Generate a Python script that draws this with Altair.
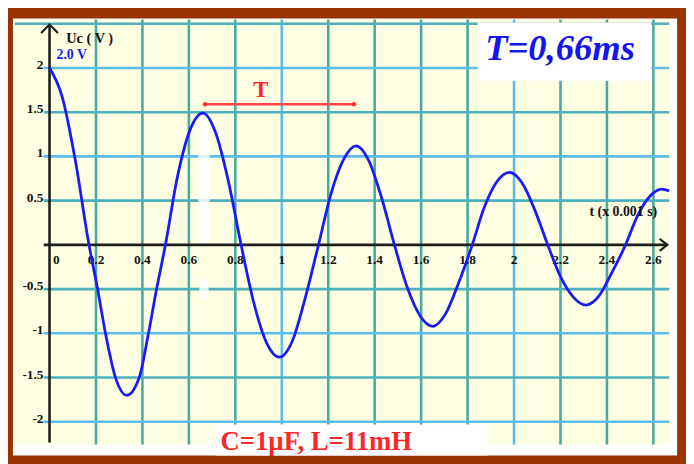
import altair as alt
import pandas as pd

# ---- curve: t (x 0.001 s) and Uc (V) ----
t_vals = [0, 0.055, 0.11, 0.17, 0.207, 0.241, 0.284, 0.333, 0.386, 0.426, 0.461, 0.499,
          0.55, 0.605, 0.66, 0.715, 0.77, 0.825, 0.88, 0.935, 0.99, 1.045, 1.10, 1.158,
          1.21, 1.265, 1.32, 1.375, 1.43, 1.485, 1.54, 1.595, 1.65, 1.705, 1.76, 1.82,
          1.87, 1.925, 1.98, 2.035, 2.09, 2.145, 2.20, 2.255, 2.31, 2.365, 2.42, 2.48,
          2.53, 2.585, 2.635, 2.668]
uc_vals = [2.00, 1.67, 0.97, 0.0, -0.5, -1.0, -1.5, -1.70, -1.5, -1.0, -0.5, 0.0,
           0.76, 1.30, 1.49, 1.27, 0.72, 0.0, -0.66, -1.11, -1.27, -1.09, -0.61, 0.0,
           0.56, 0.96, 1.12, 0.95, 0.53, 0.0, -0.48, -0.80, -0.92, -0.78, -0.44, 0.0,
           0.41, 0.71, 0.82, 0.70, 0.39, 0.0, -0.36, -0.59, -0.68, -0.58, -0.32, 0.0,
           0.32, 0.55, 0.63, 0.61]

x_ticks = [0, 0.2, 0.4, 0.6, 0.8, 1, 1.2, 1.4, 1.6, 1.8, 2, 2.2, 2.4, 2.6]
x_tick_labels = ["0", "0.2", "0.4", "0.6", "0.8", "1", "1.2", "1.4", "1.6", "1.8",
                 "2", "2.2", "2.4", "2.6"]
y_ticks = [2, 1.5, 1, 0.5, -0.5, -1, -1.5, -2]
y_tick_labels = ["2", "1.5", "1", "0.5", "-0.5", "-1", "-1.5", "-2"]
grid_x = [0.2, 0.4, 0.6, 0.8, 1, 1.2, 1.4, 1.6, 1.8, 2, 2.2, 2.4, 2.6]
grid_y = [-2, -1.5, -1, -0.5, 0.5, 1, 1.5, 2, 2.5]

period_start, period_end, period_level = 0.67, 1.31, 1.59

# ---- styling ----
FONT = "Liberation Serif"
BROWN = "#993300"
YELLOW = "#fefee2"
BLUE_GRID = "#5cbcec"
TEAL_GRID = "#48ab9f"
HALF_GRID = "#4db0bb"
CURVE = "#1a1af5"
RED = "#ff2626"
INK = "#111111"

xs = alt.Scale(domain=[-0.149, 2.668], nice=False, zero=False)
ys = alt.Scale(domain=[-2.257, 2.547], nice=False, zero=False)


def X(f):
    return alt.X(f, type="quantitative", scale=xs, axis=None)


def Y(f):
    return alt.Y(f, type="quantitative", scale=ys, axis=None)


one = pd.DataFrame({"a": [0]})

# frame: white inner strip and yellow paper
white_bg = alt.Chart(one).mark_rect(color="white").encode(
    x=alt.value(-2), x2=alt.value(670), y=alt.value(-1), y2=alt.value(441))
paper = alt.Chart(one).mark_rect(color=YELLOW).encode(
    x=alt.value(0), x2=alt.value(662), y=alt.value(0), y2=alt.value(430))

# grid
gx = pd.DataFrame({"g": grid_x,
                   "c": [BLUE_GRID if abs(v - round(v)) < 1e-9 else TEAL_GRID for v in grid_x]})
vgrid = alt.Chart(gx).mark_rule(strokeWidth=2.6).encode(
    x=X("g"), y=alt.value(0), y2=alt.value(430), color=alt.Color("c:N", scale=None))

gy = pd.DataFrame({"g": grid_y,
                   "x0": [-0.149 if v > 2.4 else -0.025 for v in grid_y],
                   "x1": [2.668] * len(grid_y),
                   "c": [BLUE_GRID if abs(v - round(v)) < 1e-9 else HALF_GRID for v in grid_y]})
hgrid = alt.Chart(gy).mark_rule(strokeWidth=2.6).encode(
    y=Y("g"), x=X("x0"), x2="x1", color=alt.Color("c:N", scale=None))

# white smudges near t = 0.66
smudge = pd.DataFrame({"x0": [0.64, 0.645], "x1": [0.69, 0.685],
                       "y0": [1.45, -0.38], "y1": [0.02, -0.62]})
smudges = alt.Chart(smudge).mark_rect(color="white", opacity=0.8).encode(
    x=X("x0"), x2="x1", y=Y("y0"), y2="y1")

# axes
xaxis = alt.Chart(pd.DataFrame({"x0": [-0.025], "x1": [2.655], "y": [0]})).mark_rule(
    color="#1e1e1e", strokeWidth=2.6).encode(x=X("x0"), x2="x1", y=Y("y"))
yaxis = alt.Chart(pd.DataFrame({"x": [0], "y0": [-2.235], "y1": [2.48]})).mark_rule(
    color="#1e1e1e", strokeWidth=2.6).encode(x=X("x"), y=Y("y0"), y2="y1")
xarrow = alt.Chart(pd.DataFrame({"x": [2.66], "y": [0]})).mark_point(
    shape="M -1.3 -1 L 0 0 L -1.3 1", filled=False, stroke="#1e1e1e", strokeWidth=2.2,
    size=144, opacity=1).encode(x=X("x"), y=Y("y"))
yarrow = alt.Chart(pd.DataFrame({"x": [0], "y": [2.49]})).mark_point(
    shape="M -1 1 L 0 0 L 1 1", filled=False, stroke="#1e1e1e", strokeWidth=2.2,
    size=289, opacity=1).encode(x=X("x"), y=Y("y"))

# tick labels
xl = pd.DataFrame({"x": x_ticks, "lab": x_tick_labels, "y": [-0.17] * len(x_ticks)})
xlab_base = alt.Chart(xl)
xlabels = xlab_base.mark_text(font=FONT, fontWeight="bold", fontSize=13.5,
                              color=INK, baseline="middle", align="center").encode(
    x=X("x"), y=Y("y"), text="lab:N").transform_filter("datum.x != 0")
xlabel0 = xlab_base.mark_text(font=FONT, fontWeight="bold", fontSize=13.5, dx=7,
                              color=INK, baseline="middle", align="center").encode(
    x=X("x"), y=Y("y"), text="lab:N").transform_filter("datum.x == 0")
yl = pd.DataFrame({"y": y_ticks, "lab": y_tick_labels, "x": [-0.026] * len(y_ticks)})
ylabels = alt.Chart(yl).mark_text(font=FONT, fontWeight="bold", fontSize=13.5,
                                  color=INK, baseline="alphabetic", align="right",
                                  dy=1).encode(x=X("x"), y=Y("y"), text="lab:N")

# curve
curve = alt.Chart(pd.DataFrame({"t": t_vals, "uc": uc_vals})).mark_line(
    color=CURVE, strokeWidth=2.8, interpolate="monotone").encode(x=X("t"), y=Y("uc"))

# period marker
pm = pd.DataFrame({"x0": [period_start], "x1": [period_end], "y": [period_level]})
pline = alt.Chart(pm).mark_rule(color="#ff4444", strokeWidth=2.4).encode(
    x=X("x0"), x2="x1", y=Y("y"))
pdots = alt.Chart(pd.DataFrame({"x": [period_start, period_end],
                                "y": [period_level] * 2})).mark_circle(
    color="#ff3030", size=22, opacity=1).encode(x=X("x"), y=Y("y"))


def label(txt, x, y, size, color, align="left", baseline="middle", italic=False):
    return alt.Chart(pd.DataFrame({"x": [x], "y": [y], "s": [txt]})).mark_text(
        font=FONT, fontWeight="bold", fontSize=size, color=color, align=align,
        baseline=baseline, fontStyle="italic" if italic else "normal").encode(
        x=X("x"), y=Y("y"), text="s:N")


t_label = label("T", 0.91, 1.754, 23, RED, align="center")

box_T = alt.Chart(pd.DataFrame({"x0": [1.843], "x1": [2.591], "y0": [1.855], "y1": [2.514]})
                  ).mark_rect(color="white").encode(x=X("x0"), x2="x1", y=Y("y0"), y2="y1")
t_text = label("T=0,66ms", 2.198, 2.089, 37, "#1414f0", align="center",
               baseline="alphabetic", italic=True)

box_C = alt.Chart(pd.DataFrame({"x0": [0.715], "x1": [1.885], "y0": [-2.03], "y1": [-2.38]})
                  ).mark_rect(color="white").encode(x=X("x0"), x2="x1", y=Y("y0"), y2="y1")
c_text = label("C=1µF, L=11mH", 0.736, -2.324, 27, RED, baseline="alphabetic")

uc_label = label("Uc ( V )", 0.072, 2.324, 14.5, INK)
v_label = label("2.0 V", 0.03, 2.145, 14, "#1a1af0")
t_axis_label = label("t (x 0.001 s)", 2.325, 0.37, 14, INK)

chart = alt.layer(
    white_bg, paper, vgrid, hgrid, smudges, xaxis, yaxis, xarrow, yarrow,
    xlabels, xlabel0, ylabels, curve, pline, pdots, t_label, box_T, t_text, box_C, c_text,
    uc_label, v_label, t_axis_label,
).properties(
    width=662, height=430,
    padding={"left": 7, "top": 9, "right": 17, "bottom": 17},
    autosize=alt.AutoSizeParams(type="none"),
).configure(background=BROWN).configure_view(stroke=None)

chart.save("out.html", embed_options={"renderer": "svg", "actions": False})
